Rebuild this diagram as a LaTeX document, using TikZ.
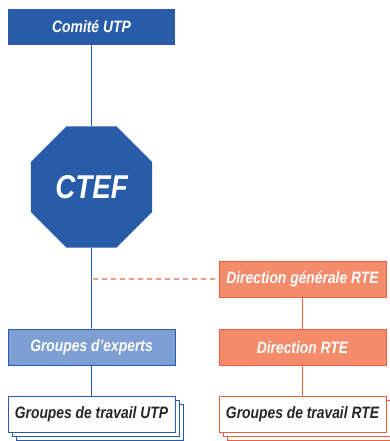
\documentclass[tikz,border=0pt]{standalone}
\usepackage{fontspec}
\setmainfont{Liberation Sans}[FakeStretch=0.84]
\usetikzlibrary{shapes.geometric,shadows}

\definecolor{utpblue}{HTML}{285CA9}
\definecolor{expblue}{HTML}{7E9FD4}
\definecolor{rtefill}{HTML}{F48C6C}
\definecolor{rteline}{HTML}{EE5F40}
\definecolor{rtedash}{HTML}{F29A82}

\tikzset{
  box/.style={minimum width=167pt, minimum height=36pt, inner sep=0pt,
    font=\fontsize{16.5}{18}\selectfont\bfseries\itshape},
  utpbox/.style={box, fill=utpblue, text=white},
  expbox/.style={box, fill=expblue, draw=utpblue, line width=0.9pt, text=white},
  rtebox/.style={box, fill=rtefill, draw=rteline, line width=0.9pt, text=white},
  stackbox/.style={box, fill=white, line width=0.9pt, text=black!85,
    double copy shadow={shadow xshift=4pt, shadow yshift=-4pt}},
  utplink/.style={draw=utpblue, line width=0.9pt},
  rtelink/.style={draw=rteline, line width=0.9pt}
}

\begin{document}
\begin{tikzpicture}[x=1pt,y=-1pt]
\useasboundingbox (0,0) rectangle (390,441);
% left column
\node[utpbox] (comite) at (91.5,27) {Comité UTP};
\node[regular polygon, regular polygon sides=8, minimum size=131pt, inner sep=0pt,
  fill=utpblue, text=white, font=\fontsize{33}{36}\selectfont\bfseries\itshape]
  (ctef) at (91.5,187) {CTEF};
\node[expbox] (experts) at (91.5,347) {Groupes d’experts};
\node[stackbox, draw=utpblue] (gtutp) at (91.5,414.5) {Groupes de travail UTP};
% right column
\node[rtebox] (dgrte) at (302.5,279) {Direction générale RTE};
\node[rtebox] (drte) at (302.5,347.5) {Direction RTE};
\node[stackbox, draw=rteline] (gtrte) at (302.5,414.5) {Groupes de travail RTE};
% links
\draw[utplink] (comite) -- (ctef);
\draw[utplink] (ctef) -- (experts);
\draw[utplink] (experts) -- (gtutp);
\coordinate (branch) at ([xshift=1.5pt]ctef.south |- dgrte.west);
\draw[line width=1.2pt, draw=rtedash, dash pattern=on 5pt off 4pt] (branch) -- (dgrte.west);
\draw[rtelink] (dgrte) -- (drte);
\draw[rtelink] (drte) -- (gtrte);
\end{tikzpicture}
\end{document}
